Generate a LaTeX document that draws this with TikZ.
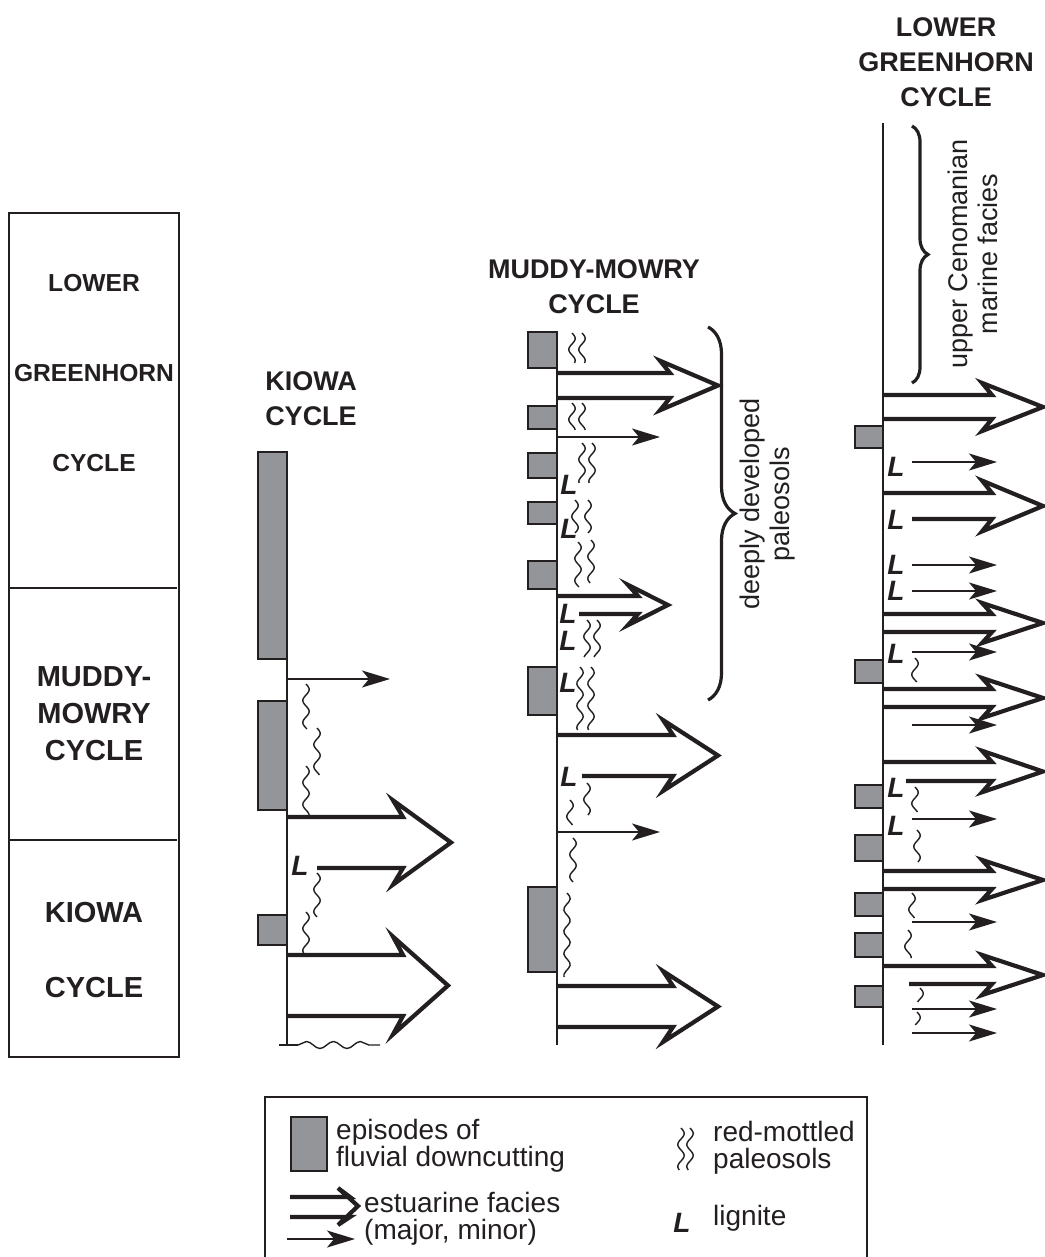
\documentclass[tikz,border=0pt]{standalone}
\usepackage{fontspec}
\setmainfont{Liberation Sans}
\usetikzlibrary{arrows.meta, decorations.pathmorphing, decorations.pathreplacing}
\definecolor{ink}{HTML}{231F20}
\definecolor{cutgray}{HTML}{939598}
\tikzset{colline/.style = {line width=2}}
\tikzset{cutbox/.style = {draw, fill=cutgray, line width=1.8}}
\tikzset{estmajor/.style = {line width=4.2, line join=miter}}
\tikzset{estminor/.style = {line width=1.8, -{Stealth[length=28pt,width=17pt,inset=7pt]}}}
\tikzset{squig/.style = {line width=1.4, smooth}}
\tikzset{curly/.style = {line width=3.2, decorate, decoration={brace, amplitude=#1}}}
\tikzset{lig/.style = {font=\fontsize{28}{28}\selectfont\bfseries\itshape, inner sep=0}}
\tikzset{cyclehead/.style = {font=\fontsize{27}{35}\selectfont\bfseries, align=center}}
\tikzset{colhead/.style = {font=\fontsize{24.6}{30}\selectfont\bfseries, align=center}}
\tikzset{colbig/.style = {font=\fontsize{29}{37}\selectfont\bfseries, align=center}}
\tikzset{note/.style = {font=\fontsize{27}{30}\selectfont, align=center}}
\tikzset{legtext/.style = {font=\fontsize{28}{27}\selectfont, align=left, anchor=west, inner sep=0}}
\newcommand{\estuary}[6][48]{%
  \pgfmathsetmacro{\estext}{8+0.17*(#5-#4)}%
  \pgfmathsetmacro{\estmid}{(#4+#5)/2}%
  \draw[estmajor] (#2,#4) -- (#6,#4) -- (#6-10,#4-\estext) -- (#6+#1,\estmid)
    -- (#6-10,#5+\estext) -- (#6,#5) -- (#3,#5);}
\newcommand{\paleosol}[3]{\draw[squig] plot[domain=#2:#3, samples=30, variable=\t] ({#1+3.2*sin((\t-#2)/22*360)}, \t);}
\newcommand{\lignite}[3]{\node[lig] (#1) at (#2,#3) {L};}

\begin{document}
\begin{tikzpicture}[x=1pt, y=-1pt, color=ink]
            \useasboundingbox (0,0) rectangle (1044,1257);
            \draw[colline] (9,213) rectangle (179,1057);
            \draw[colline] (9,588) -- (177,588);
            \draw[colline] (9,840) -- (177,840);
            \node[colhead] (lgLower) at (94,283) {LOWER};
            \node[colhead] (lgGreen) at (94,373) {GREENHORN};
            \node[colhead] (lgCycle) at (94,463) {CYCLE};
            \node[colbig] (lgMuddy) at (94,714) {MUDDY-\\MOWRY\\CYCLE};
            \node[colbig] (lgKiowa) at (94,913) {KIOWA};
            \node[colbig] (lgKcycle) at (94,988) {CYCLE};

            \node[cyclehead] (kiowaHead) at (311,399) {KIOWA\\CYCLE};
            \draw[colline] (287,659) -- (287,1045);
            \draw[cutbox] (258,452) rectangle (287,659);
            \draw[cutbox] (258,701) rectangle (287,810);
            \draw[cutbox] (258,915) rectangle (287,945);
            \draw[estminor] (287,679) -- (390,679);
            \estuary{287}{317}{817}{868}{403}
            \estuary[45]{287}{287}{955}{1016}{403}
            \lignite{kL}{300}{866}
            \paleosol{306}{684}{729}
            \paleosol{317}{728}{775}
            \paleosol{306}{766}{815}
            \paleosol{317}{873}{917}
            \paleosol{306}{912}{953}
            \draw[line width=1.4] (279,1045) -- (298,1045);
            \draw[line width=1.4, decorate, decoration={snake, amplitude=3.5, segment length=27}] (298,1045) -- (380,1045);

            \node[cyclehead] (muddyHead) at (594,287) {MUDDY-MOWRY\\CYCLE};
            \draw[colline] (557,333) -- (557,1045);
            \draw[cutbox] (528,332) rectangle (557,368);
            \draw[cutbox] (528,406) rectangle (557,429);
            \draw[cutbox] (528,453) rectangle (557,478);
            \draw[cutbox] (528,502) rectangle (557,524);
            \draw[cutbox] (528,561) rectangle (557,589);
            \draw[cutbox] (528,667) rectangle (557,715);
            \draw[cutbox] (528,887) rectangle (557,972);
            \estuary{557}{557}{373}{398}{670}
            \draw[estminor] (557,437) -- (660,437);
            \estuary[30]{557}{579}{596}{614}{638}
            \estuary[45]{557}{582}{735}{776}{673}
            \draw[estminor] (557,832) -- (660,832);
            \estuary[45]{557}{557}{986}{1027}{673}
            \lignite{mL1}{569}{485}
            \lignite{mL2}{569}{529}
            \lignite{mL3}{568}{614}
            \lignite{mL4}{568}{641}
            \lignite{mL5}{568}{683}
            \lignite{mL6}{569}{777}
            \paleosol{572}{333}{363}
            \paleosol{582}{333}{363}
            \paleosol{572}{403}{430}
            \paleosol{582}{403}{430}
            \paleosol{582}{443}{483}
            \paleosol{592}{443}{483}
            \paleosol{575}{500}{533}
            \paleosol{588}{500}{533}
            \paleosol{578}{542}{587}
            \paleosol{591}{540}{583}
            \paleosol{587}{620}{657}
            \paleosol{597}{620}{657}
            \paleosol{580}{667}{730}
            \paleosol{591}{667}{730}
            \paleosol{587}{783}{815}
            \paleosol{570}{800}{825}
            \paleosol{573}{838}{882}
            \paleosol{567}{893}{977}
            \draw[curly=27] (708,327) -- (708,700);
            \node[note, rotate=90] (paleoNote) at (768,504) {deeply developed\\paleosols};

            \node[cyclehead] (greenHead) at (946,62) {LOWER\\GREENHORN\\CYCLE};
            \draw[colline] (883,123) -- (883,1045);
            \draw[cutbox] (855,426) rectangle (883,448);
            \draw[cutbox] (855,660) rectangle (883,683);
            \draw[cutbox] (855,785) rectangle (883,808);
            \draw[cutbox] (855,835) rectangle (883,861);
            \draw[cutbox] (855,893) rectangle (883,916);
            \draw[cutbox] (855,933) rectangle (883,957);
            \draw[cutbox] (855,986) rectangle (883,1007);
            \estuary[51]{883}{883}{395}{419}{992}
            \estuary[51]{883}{912}{493}{519}{992}
            \estuary[51]{883}{883}{614}{632}{992}
            \estuary[51]{883}{883}{689}{707}{992}
            \estuary[51]{883}{906}{762}{781}{992}
            \estuary[51]{883}{883}{871}{889}{992}
            \estuary[51]{883}{909}{966}{984}{992}
            \draw[estminor] (912,462) -- (997,462);
            \draw[estminor] (912,565) -- (997,565);
            \draw[estminor] (912,591) -- (997,591);
            \draw[estminor] (912,652) -- (997,652);
            \draw[estminor] (912,725) -- (997,725);
            \draw[estminor] (912,819) -- (997,819);
            \draw[estminor] (912,922) -- (997,922);
            \draw[estminor] (912,1009) -- (997,1009);
            \draw[estminor] (912,1033) -- (997,1033);
            \lignite{gL1}{896}{467}
            \lignite{gL2}{896}{520}
            \lignite{gL3}{896}{565}
            \lignite{gL4}{896}{591}
            \lignite{gL5}{896}{654}
            \lignite{gL6}{896}{788}
            \lignite{gL7}{896}{826}
            \paleosol{915}{658}{682}
            \paleosol{915}{787}{812}
            \paleosol{917}{830}{862}
            \paleosol{912}{893}{918}
            \paleosol{908}{930}{958}
            \paleosol{920}{988}{1002}
            \paleosol{917}{1012}{1025}
            \draw[curly=16] (912,126) -- (912,383);
            \node[note, rotate=90] (marineNote) at (973,254) {upper Cenomanian\\marine facies};

            \draw[colline] (265,1257) -- (265,1097) -- (867,1097) -- (867,1257);
            \draw[cutbox] (291,1117) rectangle (327,1171);
            \node[legtext] (keyCut) at (336,1146) {episodes of\\fluvial downcutting};
            \draw[estmajor] (290,1197) -- (350,1197) -- (338,1188) -- (358,1206) -- (338,1225) -- (350,1217) -- (290,1217);
            \draw[estminor] (287,1239) -- (355,1239);
            \node[legtext] (keyEst) at (364,1219) {estuarine facies\\(major, minor)};
            \paleosol{681}{1128}{1170}
            \paleosol{690}{1128}{1170}
            \node[legtext] (keySoil) at (713,1148) {red-mottled\\paleosols};
            \lignite{keyL}{682}{1223}
            \node[legtext] (keyLig) at (713,1218) {lignite};
        \end{tikzpicture}
\end{document}
